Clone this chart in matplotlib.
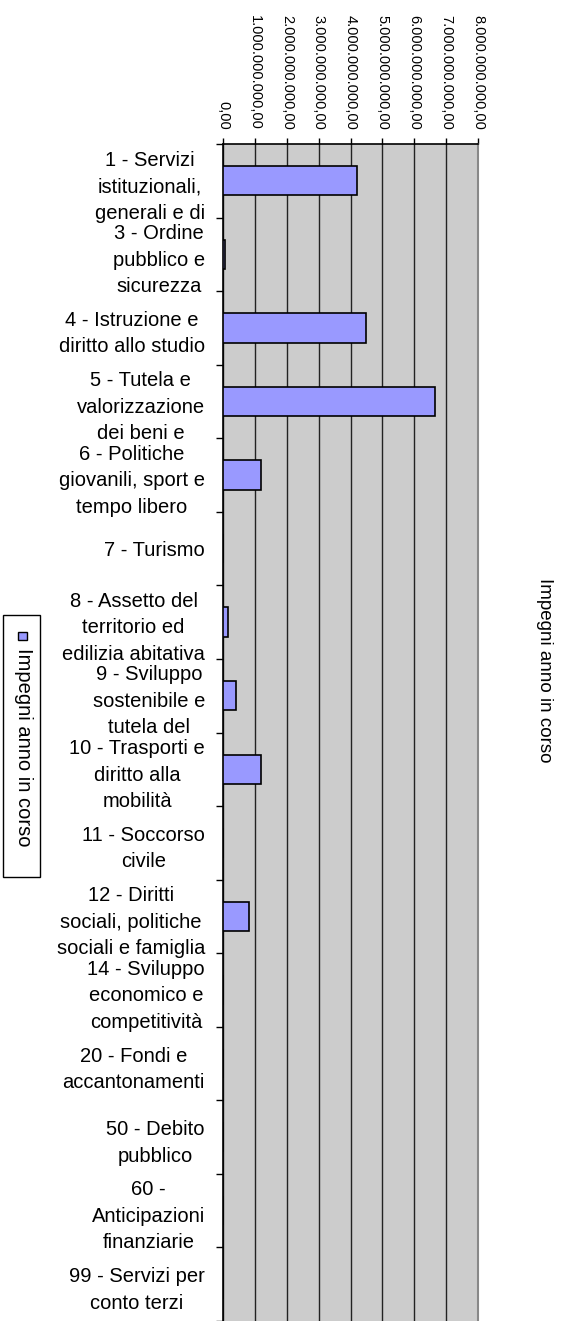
import numpy as np
import matplotlib
matplotlib.use("Agg")
import matplotlib.pyplot as plt
from matplotlib.patches import Rectangle
from matplotlib.ticker import FuncFormatter

plt.rcParams['font.family'] = ['Liberation Sans', 'DejaVu Sans']

# data
categorie = [
    "1 - Servizi\nistituzionali,\ngenerali e di",
    "3 - Ordine\npubblico e\nsicurezza",
    "4 - Istruzione e\ndiritto allo studio",
    "5 - Tutela e\nvalorizzazione\ndei beni e",
    "6 - Politiche\ngiovanili, sport e\ntempo libero",
    "7 - Turismo",
    "8 - Assetto del\nterritorio ed\nedilizia abitativa",
    "9 - Sviluppo\nsostenibile e\ntutela del",
    "10 - Trasporti e\ndiritto alla\nmobilità",
    "11 - Soccorso\ncivile",
    "12 - Diritti\nsociali, politiche\nsociali e famiglia",
    "14 - Sviluppo\neconomico e\ncompetitività",
    "20 - Fondi e\naccantonamenti",
    "50 - Debito\npubblico",
    "60 -\nAnticipazioni\nfinanziarie",
    "99 - Servizi per\nconto terzi",
]
impegni = [4.19e9, 0.06e9, 4.49e9, 6.64e9, 1.19e9, 0.0, 0.16e9, 0.41e9,
           1.19e9, 0.0, 0.80e9, 0.0, 0.0, 0.0, 0.0, 0.0]
serie = "Impegni anno in corso"
x_ticks = [0, 1e9, 2e9, 3e9, 4e9, 5e9, 6e9, 7e9, 8e9]

W, H = 561, 1321
fig = plt.figure(figsize=(W / 100, H / 100), dpi=100)
ax = fig.add_axes([223 / W, 0, 255 / W, (H - 144) / H])
ax.set_facecolor('#CCCCCC')

y = np.arange(len(categorie))
ax.barh(y, impegni, height=0.4, color='#9999FF', edgecolor='black',
        linewidth=1.2, zorder=3)

ax.set_xlim(0, 8e9)
ax.set_ylim(len(categorie) - 0.5, -0.5)

# x axis on top, rotated labels
ax.xaxis.tick_top()
ax.set_xticks(x_ticks)
fmt = lambda v, p: "{:,.2f}".format(v).replace(",", "X").replace(".", ",").replace("X", ".")
ax.xaxis.set_major_formatter(FuncFormatter(fmt))
ax.tick_params(axis='x', which='major', length=4, width=1, pad=6,
               labelsize=10.5, labelrotation=-90)
for t in ax.get_xticklabels():
    t.set_va('bottom')

# category labels at centers, ticks at band boundaries
ax.set_yticks(y)
ax.set_yticklabels(categorie, fontsize=14.5, linespacing=1.5,
                   multialignment='center')
ax.set_yticks(np.arange(len(categorie) + 1) - 0.5, minor=True)
ax.tick_params(axis='y', which='major', length=0, pad=13)
ax.tick_params(axis='y', which='minor', length=5, width=1)

ax.grid(axis='x', color='#222222', linewidth=1, zorder=1)
ax.spines['bottom'].set_visible(False)
ax.spines['right'].set_color('#888888')
ax.spines['right'].set_linewidth(1.5)
ax.spines['left'].set_linewidth(1.2)
ax.spines['top'].set_linewidth(1.2)

# axis title on the right
fig.text(544 / W, 1 - 670 / H, serie, rotation=-90, ha='center', va='center',
         fontsize=13.5)

# legend drawn by hand (rotated)
fig.patches.append(Rectangle((3 / W, 1 - 877 / H), 37 / W, 262 / H,
                             transform=fig.transFigure, facecolor='white',
                             edgecolor='black', linewidth=1))
fig.patches.append(Rectangle((18 / W, 1 - 640 / H), 9 / W, 8 / H,
                             transform=fig.transFigure, facecolor='#9999FF',
                             edgecolor='black', linewidth=1))
fig.text(23 / W, 1 - 648 / H, serie, rotation=-90, ha='center', va='top',
         fontsize=14.5)

fig.savefig('out.png', dpi=100)
